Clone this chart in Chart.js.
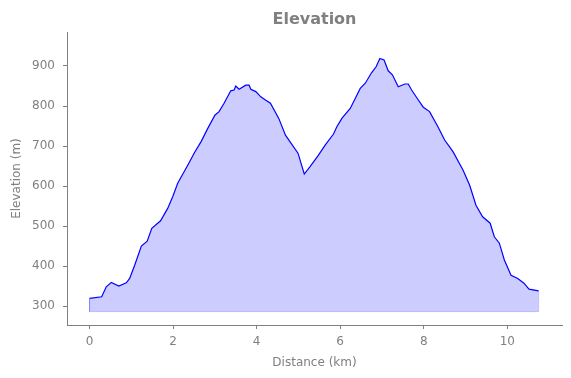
<!DOCTYPE html>
<html>
<head>
<meta charset="utf-8">
<script src="https://cdn.jsdelivr.net/npm/chart.js@4"></script>
<style>
html,body{margin:0;padding:0;background:#fff;}
#c{display:block;}
</style>
</head>
<body>
<canvas id="c" width="571" height="378"></canvas>
<script>
const chartTitle = "Elevation";
const xAxisTitle = "Distance (km)";
const yAxisTitle = "Elevation (m)";
const distanceKm = [0, 0.29, 0.40, 0.52, 0.70, 0.88, 0.96, 1.08, 1.24, 1.38, 1.49, 1.70, 1.87, 1.99, 2.11, 2.35, 2.51, 2.67, 2.83, 3.00, 3.10, 3.22, 3.38, 3.46, 3.50, 3.58, 3.74, 3.82, 3.86, 3.98, 4.10, 4.21, 4.33, 4.53, 4.69, 4.99, 5.14, 5.27, 5.48, 5.64, 5.84, 5.92, 6.04, 6.24, 6.36, 6.48, 6.60, 6.75, 6.86, 6.95, 7.05, 7.15, 7.25, 7.39, 7.55, 7.63, 7.71, 7.87, 7.99, 8.14, 8.34, 8.50, 8.70, 8.94, 9.10, 9.25, 9.41, 9.59, 9.69, 9.81, 9.93, 10.09, 10.25, 10.40, 10.52, 10.75];
const elevationM = [319, 323, 348, 359, 350, 358, 369, 402, 450, 462, 494, 513, 544, 573, 607, 652, 683, 711, 744, 777, 786, 807, 838, 840, 850, 842, 852, 852, 842, 836, 823, 815, 807, 769, 727, 682, 630, 647, 677, 702, 730, 748, 769, 794, 819, 844, 857, 883, 898, 919, 915, 888, 878, 848, 855, 855, 840, 815, 797, 786, 748, 715, 686, 640, 602, 552, 523, 507, 473, 457, 415, 377, 369, 357, 342, 338];
const fillBase = 286;
const xTicks = [0, 2, 4, 6, 8, 10];
const yTicks = [300, 400, 500, 600, 700, 800, 900];

const gray = '#808080';
const font = {family: 'DejaVu Sans', size: 12};

const points = distanceKm.map((d, i) => ({x: d, y: elevationM[i]}));
const lastX = distanceKm[distanceKm.length - 1];
const edge = [
  {x: distanceKm[0], y: elevationM[0]},
  {x: distanceKm[0], y: fillBase},
  {x: lastX, y: fillBase},
  {x: lastX, y: elevationM[elevationM.length - 1]}
];

const titlePlugin = {
  id: 'axTitle',
  afterDraw(chart) {
    const ctx = chart.ctx, a = chart.chartArea;
    ctx.save();
    ctx.fillStyle = gray;
    ctx.font = 'bold 16px "DejaVu Sans"';
    ctx.textAlign = 'center';
    ctx.textBaseline = 'middle';
    ctx.fillText(chartTitle, (a.left + a.right) / 2, 19.5);
    ctx.restore();
  }
};

new Chart(document.getElementById('c'), {
  type: 'line',
  data: {
    datasets: [
      {
        data: points,
        borderColor: 'blue',
        borderWidth: 1.2,
        backgroundColor: 'rgba(0,0,255,0.2)',
        fill: {value: fillBase},
        pointRadius: 0,
        tension: 0
      },
      {
        data: edge,
        borderColor: 'rgba(0,0,255,0.2)',
        borderWidth: 1,
        fill: false,
        pointRadius: 0,
        tension: 0
      }
    ]
  },
  options: {
    responsive: false,
    animation: false,
    layout: {padding: {top: 32, right: 9, bottom: 0, left: 0}},
    plugins: {legend: {display: false}, tooltip: {enabled: false}, title: {display: false}},
    scales: {
      x: {
        type: 'linear',
        min: -0.54,
        max: 11.31,
        afterBuildTicks: s => { s.ticks = xTicks.map(v => ({value: v})); },
        afterFit: s => { s.height = 53; },
        grid: {drawOnChartArea: false, drawTicks: true, tickLength: 4, color: gray},
        border: {display: true, color: gray, width: 1},
        ticks: {color: gray, font: font, padding: 6, maxRotation: 0},
        title: {display: true, text: xAxisTitle, color: gray, font: font, padding: {top: 2, bottom: 8}}
      },
      y: {
        type: 'linear',
        min: 252.5,
        max: 985,
        afterBuildTicks: s => { s.ticks = yTicks.map(v => ({value: v})); },
        afterFit: s => { s.width = 67; },
        grid: {drawOnChartArea: false, drawTicks: true, tickLength: 4, color: gray},
        border: {display: true, color: gray, width: 1},
        ticks: {color: gray, font: font, padding: 8},
        title: {display: true, text: yAxisTitle, color: gray, font: font, padding: {top: 10, bottom: 2}}
      }
    }
  },
  plugins: [titlePlugin]
});
</script>
</body>
</html>
